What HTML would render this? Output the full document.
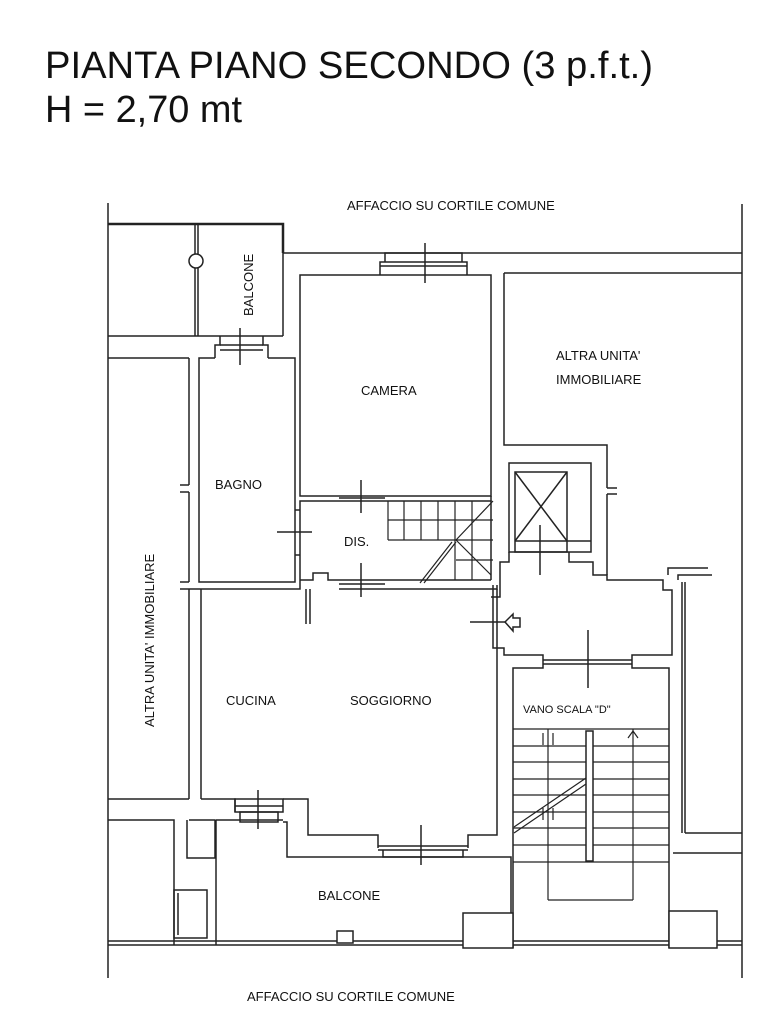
<!DOCTYPE html>
<html><head><meta charset="utf-8"><style>
html,body{margin:0;padding:0;background:#fff;}
svg{display:block;}
text{font-family:"Liberation Sans",Arial,sans-serif;fill:#111;}
</style></head><body>
<svg width="768" height="1024" viewBox="0 0 768 1024" xmlns="http://www.w3.org/2000/svg">
<text x="45" y="78" font-size="38" textLength="608" lengthAdjust="spacingAndGlyphs">PIANTA PIANO SECONDO (3 p.f.t.)</text>
<text x="45" y="122" font-size="38" textLength="197" lengthAdjust="spacingAndGlyphs">H = 2,70 mt</text>

<g fill="none" stroke="#222" stroke-width="1.5">
<line x1="108" y1="203" x2="108" y2="978"/>
<line x1="742" y1="204" x2="742" y2="978"/>
<polyline points="108,224 283,224 283,253" stroke-width="2.5"/>
<line x1="283" y1="253" x2="742" y2="253"/>
<line x1="195" y1="224" x2="195" y2="336"/><line x1="198" y1="224" x2="198" y2="336"/>
<circle cx="196" cy="261" r="7" fill="#fff"/>
<line x1="108" y1="336" x2="283" y2="336"/>
<line x1="283" y1="253" x2="283" y2="336"/>
<polyline points="220,336 220,345 215,345 215,358"/><polyline points="263,336 263,345 268,345 268,358"/>
<line x1="220" y1="345" x2="263" y2="345"/><line x1="220" y1="350" x2="263" y2="350"/>
<line x1="240" y1="328" x2="240" y2="365"/>
<line x1="108" y1="358" x2="189" y2="358"/>
<line x1="189" y1="358" x2="189" y2="485"/><line x1="180" y1="485" x2="189" y2="485"/>
<line x1="180" y1="492" x2="189" y2="492"/><line x1="189" y1="492" x2="189" y2="582"/>
<line x1="180" y1="582" x2="189" y2="582"/><line x1="180" y1="589" x2="189" y2="589"/>
<line x1="189" y1="589" x2="189" y2="799"/><line x1="108" y1="799" x2="189" y2="799"/>
<polyline points="215,358 199,358 199,582 295,582 295,358 268,358"/>
<line x1="295" y1="510" x2="300" y2="510"/><line x1="295" y1="555" x2="300" y2="555"/>
<line x1="277" y1="532" x2="312" y2="532"/>
<rect x="300" y="275" width="191" height="221"/>
<polyline points="380,275 380,262 467,262 467,275"/>
<polyline points="385,262 385,253 462,253 462,262"/>
<line x1="380" y1="266" x2="467" y2="266"/>
<line x1="425" y1="243" x2="425" y2="283"/>
<polyline points="300,582 300,501 491,501 491,580"/>
<line x1="339" y1="498" x2="385" y2="498"/>
<line x1="361" y1="480" x2="361" y2="513"/>
<polyline points="300,580 313,580 313,573 328,573 328,580 339,580"/>
<line x1="339" y1="580" x2="491" y2="580"/><line x1="339" y1="584" x2="385" y2="584"/>
<line x1="361" y1="563" x2="361" y2="597"/>
<g stroke-width="1.2">
<line x1="388" y1="501" x2="388" y2="540"/><line x1="388" y1="540" x2="456" y2="540"/>
<line x1="404" y1="501" x2="404" y2="540"/><line x1="421" y1="501" x2="421" y2="540"/>
<line x1="438" y1="501" x2="438" y2="540"/><line x1="455" y1="501" x2="455" y2="580"/>
<line x1="472" y1="501" x2="472" y2="580"/>
<line x1="388" y1="520" x2="493" y2="520"/><line x1="456" y1="560" x2="493" y2="560"/>
<line x1="456" y1="540" x2="493" y2="540"/>
<line x1="456" y1="540" x2="493" y2="501"/><line x1="456" y1="540" x2="491" y2="575"/>
<line x1="420" y1="583" x2="452" y2="542"/><line x1="424" y1="583" x2="456" y2="542"/>
</g>
<line x1="491" y1="496" x2="491" y2="501"/>
<polyline points="504,273 742,273"/>
<polyline points="504,273 504,445 607,445 607,488"/>
<line x1="607" y1="488" x2="617" y2="488"/><line x1="607" y1="494" x2="617" y2="494"/>
<line x1="607" y1="494" x2="607" y2="575"/>
<rect x="509" y="463" width="82" height="89"/>
<rect x="515" y="472" width="52" height="80"/>
<line x1="515" y1="472" x2="567" y2="541"/><line x1="567" y1="472" x2="515" y2="541"/>
<line x1="515" y1="541" x2="591" y2="541"/>
<line x1="540" y1="525" x2="540" y2="575"/>
<polyline points="509,552 509,562 500,562 500,597 491,597"/>
<polyline points="569,552 569,562 593,562 593,575 607,575 607,580 663,580 663,590 672,590 672,655 632,655 632,662"/>
<polyline points="493,585 493,648 504,648 504,655 543,655 543,662"/>
<line x1="543" y1="660" x2="632" y2="660"/><line x1="543" y1="664" x2="632" y2="664"/>
<line x1="588" y1="630" x2="588" y2="688"/>
<line x1="470" y1="622" x2="506" y2="622"/>
<polygon points="505,622 513,614 513,618 520,618 520,627 513,627 513,631" />
<polyline points="668,575 668,568 708,568"/>
<polyline points="678,580 678,575 712,575"/>
<line x1="682" y1="582" x2="682" y2="833"/><line x1="685" y1="582" x2="685" y2="833"/>
<line x1="685" y1="833" x2="742" y2="833"/>
<line x1="673" y1="853" x2="742" y2="853"/>
<polyline points="513,948 513,668 543,668 543,662"/>
<polyline points="632,662 632,668 669,668 669,948"/>
<g stroke-width="1.2">
<line x1="513" y1="729" x2="669" y2="729"/>
<line x1="513" y1="746" x2="669" y2="746"/><line x1="513" y1="762" x2="669" y2="762"/>
<line x1="513" y1="779" x2="669" y2="779"/><line x1="513" y1="795" x2="669" y2="795"/>
<line x1="513" y1="812" x2="669" y2="812"/><line x1="513" y1="828" x2="669" y2="828"/>
<line x1="513" y1="845" x2="669" y2="845"/><line x1="513" y1="862" x2="669" y2="862"/>
<line x1="548" y1="729" x2="548" y2="900"/><line x1="633" y1="729" x2="633" y2="900"/>
<line x1="548" y1="900" x2="633" y2="900"/>
<line x1="543" y1="733" x2="543" y2="745"/><line x1="553" y1="733" x2="553" y2="745"/>
<line x1="543" y1="808" x2="543" y2="820"/><line x1="553" y1="808" x2="553" y2="820"/>
<polyline points="628,738 633,731 638,738"/>
<line x1="514" y1="827" x2="586" y2="778"/><line x1="514" y1="833" x2="586" y2="784"/>
</g>
<rect x="586" y="731" width="7" height="130" fill="#fff"/>
<polyline points="189,589 300,589 300,582"/>
<line x1="306" y1="589" x2="306" y2="624"/><line x1="310" y1="589" x2="310" y2="624"/>
<polyline points="339,589 497,589 497,585"/>
<line x1="201" y1="589" x2="201" y2="799"/>
<polyline points="201,799 235,799 235,812"/>
<polyline points="283,799 308,799 308,835 378,835 378,848"/>
<polyline points="468,848 468,835 497,835 497,589"/>
<line x1="378" y1="846" x2="468" y2="846"/><line x1="378" y1="850" x2="468" y2="850"/>
<polyline points="383,850 383,857 463,857 463,850"/>
<line x1="421" y1="825" x2="421" y2="865"/>
<rect x="235" y="799" width="48" height="13"/>
<rect x="240" y="812" width="38" height="10"/>
<line x1="235" y1="806" x2="283" y2="806"/>
<line x1="258" y1="790" x2="258" y2="829"/>
<polyline points="108,820 174,820 174,945"/>
<polyline points="187,820 187,858 215,858 215,820 189,820"/>
<polyline points="216,820 283,820"/>
<line x1="216" y1="820" x2="216" y2="945"/>
<polyline points="283,822 287,822 287,857 511,857 511,941"/>
<rect x="174" y="890" width="33" height="48"/>
<line x1="178" y1="893" x2="178" y2="935"/>
<line x1="108" y1="941" x2="742" y2="941"/><line x1="108" y1="945" x2="742" y2="945"/>
<rect x="463" y="913" width="50" height="35" fill="#fff"/>
<rect x="669" y="911" width="48" height="37" fill="#fff"/>
<rect x="337" y="931" width="16" height="12" fill="#fff"/>
</g>

<g font-size="13">
<text x="347" y="210">AFFACCIO SU CORTILE COMUNE</text>
<text x="361" y="395">CAMERA</text>
<text x="556" y="360">ALTRA UNITA'</text>
<text x="556" y="384">IMMOBILIARE</text>
<text x="215" y="489">BAGNO</text>
<text x="344" y="546">DIS.</text>
<text x="226" y="705">CUCINA</text>
<text x="350" y="705">SOGGIORNO</text>
<text x="523" y="713" font-size="11">VANO SCALA "D"</text>
<text x="318" y="900">BALCONE</text>
<text x="247" y="1001">AFFACCIO SU CORTILE COMUNE</text>
<text transform="translate(253,316) rotate(-90)">BALCONE</text>
<text transform="translate(154,727) rotate(-90)">ALTRA UNITA' IMMOBILIARE</text>
</g>
</svg>
</body></html>
